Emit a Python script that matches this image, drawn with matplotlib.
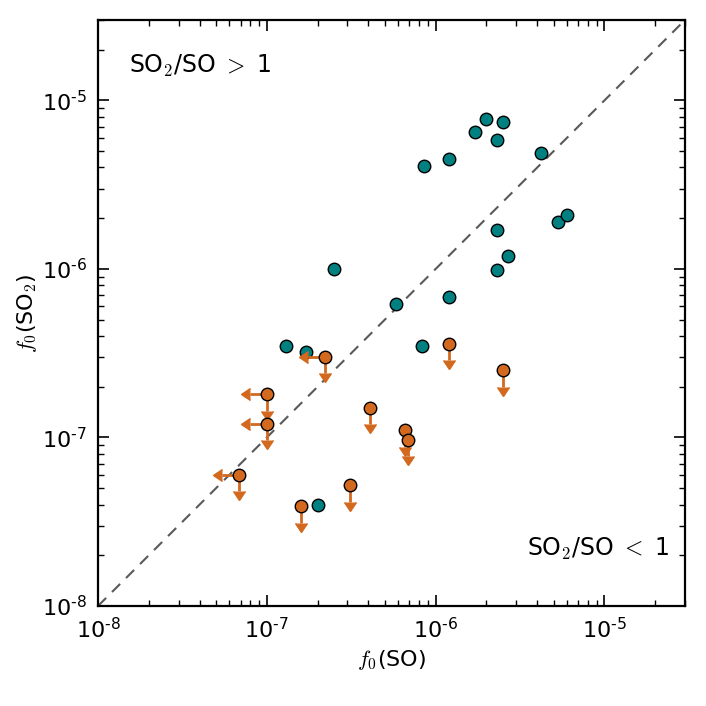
import matplotlib
matplotlib.use("Agg")
import matplotlib.pyplot as plt
from matplotlib.ticker import LogLocator, FuncFormatter, NullFormatter
import numpy as np

plt.rcParams['mathtext.fontset'] = 'cm'
plt.rcParams['font.family'] = 'DejaVu Sans'
plt.rcParams['axes.unicode_minus'] = False

# detections: f0(SO), f0(SO2)
so_det = [8.5e-7, 1.2e-6, 1.7e-6, 2.0e-6, 2.5e-6, 2.3e-6, 4.2e-6, 5.3e-6, 6.0e-6,
          2.3e-6, 2.7e-6, 2.3e-6, 2.5e-7, 5.8e-7, 1.2e-6, 8.3e-7, 1.3e-7, 1.7e-7, 2.0e-7]
so2_det = [4.1e-6, 4.5e-6, 6.5e-6, 7.8e-6, 7.4e-6, 5.8e-6, 4.9e-6, 1.9e-6, 2.1e-6,
           1.7e-6, 1.2e-6, 9.8e-7, 1.0e-6, 6.2e-7, 6.8e-7, 3.5e-7, 3.5e-7, 3.2e-7, 4.0e-8]

# SO2 upper limits (SO detected)
so_ul = [4.1e-7, 6.6e-7, 6.9e-7, 3.1e-7, 1.6e-7, 1.2e-6, 2.5e-6]
so2_ul = [1.5e-7, 1.1e-7, 9.7e-8, 5.2e-8, 3.9e-8, 3.6e-7, 2.5e-7]

# both upper limits
so_both = [2.2e-7, 1.0e-7, 1.0e-7, 6.8e-8]
so2_both = [3.0e-7, 1.8e-7, 1.2e-7, 6.0e-8]

teal = '#008080'
orange = '#D2691E'

fig = plt.figure(figsize=(7.06, 7.06), dpi=100)
ax = fig.add_axes([98/706, 1 - 606/706, 587/706, 586/706])

lims = [1e-8, 3e-5]
ax.plot(lims, lims, color='0.35', lw=1.5, ls=(0, (5.5, 4)), zorder=1)

ax.plot(so_det, so2_det, 'o', color=teal, mec='k', mew=1.0, ms=9, zorder=3)

so_ul = np.array(so_ul); so2_ul = np.array(so2_ul)
ax.errorbar(so_ul, so2_ul, yerr=0.2*so2_ul, uplims=True, fmt='o', color=orange,
            mfc=orange, mec='k', mew=1.0, ms=9, elinewidth=2, capsize=4.5,
            capthick=2, zorder=4)

so_both = np.array(so_both); so2_both = np.array(so2_both)
ax.errorbar(so_both, so2_both, yerr=0.2*so2_both, xerr=0.2*so_both,
            uplims=True, xuplims=True, fmt='o', color=orange,
            mfc=orange, mec='k', mew=1.0, ms=9, elinewidth=2, capsize=4.5,
            capthick=2, zorder=4)

ax.set_xscale('log')
ax.set_yscale('log')
ax.set_xlim(lims)
ax.set_ylim(lims)

# hyphen rather than a long minus in the exponent
def logfmt(v, p):
    e = int(round(np.log10(v)))
    sign = '\u2010' if e < 0 else ''
    return '$\\mathregular{10^{' + sign + str(abs(e)) + '}}$'

fmt = FuncFormatter(logfmt)
for axis in (ax.xaxis, ax.yaxis):
    axis.set_major_locator(LogLocator(base=10))
    axis.set_minor_locator(LogLocator(base=10, subs=np.arange(2, 10)))
    axis.set_major_formatter(fmt)
    axis.set_minor_formatter(NullFormatter())

ax.tick_params(which='both', direction='in', top=True, right=True, labelsize=16)
ax.tick_params(which='major', length=8, width=1.2, pad=8)
ax.tick_params(which='minor', length=4, width=1)
for s in ax.spines.values():
    s.set_linewidth(1.6)

ax.set_xlabel(r'$f_0$(SO)', fontsize=16)
ax.set_ylabel(r'$f_0$(SO$_2$)', fontsize=16, labelpad=2)

ax.text(0.053, 0.91, r'SO$_2$/SO $>$ 1', transform=ax.transAxes, fontsize=17,
        ha='left', va='baseline')
ax.text(0.974, 0.085, r'SO$_2$/SO $<$ 1', transform=ax.transAxes, fontsize=17,
        ha='right', va='baseline')

fig.savefig('out.png', dpi=100)
